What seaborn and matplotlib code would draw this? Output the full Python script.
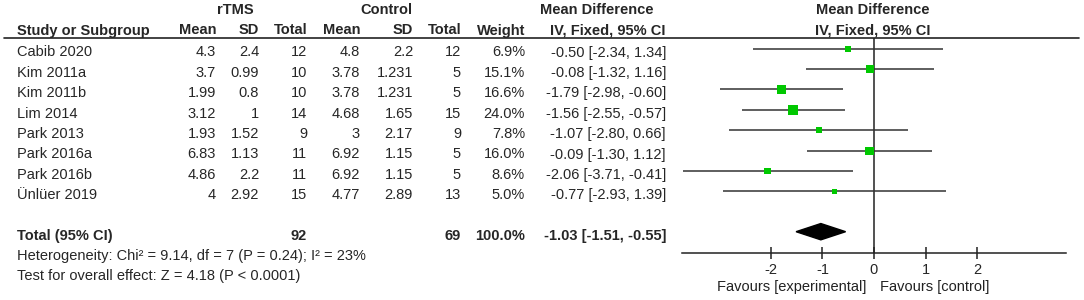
import numpy as np
import pandas as pd
import seaborn as sns
import matplotlib.pyplot as plt

# study data
studies = ['Cabib 2020', 'Kim 2011a', 'Kim 2011b', 'Lim 2014', 'Park 2013',
           'Park 2016a', 'Park 2016b', 'Ünlüer 2019']
e_mean = [4.3, 3.7, 1.99, 3.12, 1.93, 6.83, 4.86, 4]
e_sd = [2.4, 0.99, 0.8, 1, 1.52, 1.13, 2.2, 2.92]
e_n = [12, 10, 10, 14, 9, 11, 11, 15]
c_mean = [4.8, 3.78, 3.78, 4.68, 3, 6.92, 6.92, 4.77]
c_sd = [2.2, 1.231, 1.231, 1.65, 2.17, 1.15, 1.15, 2.89]
c_n = [12, 5, 5, 15, 9, 5, 5, 13]
weight = [6.9, 15.1, 16.6, 24.0, 7.8, 16.0, 8.6, 5.0]
md = [-0.50, -0.08, -1.79, -1.56, -1.07, -0.09, -2.06, -0.77]
md_lo = [-2.34, -1.32, -2.98, -2.55, -2.80, -1.30, -3.71, -2.93]
md_hi = [1.34, 1.16, -0.60, -0.57, 0.66, 1.12, -0.41, 1.39]

total_e, total_c = 92, 69
total_md, total_lo, total_hi = -1.03, -1.51, -0.55
het_text = 'Heterogeneity: Chi² = 9.14, df = 7 (P = 0.24); I² = 23%'
test_text = 'Test for overall effect: Z = 4.18 (P < 0.0001)'
ticks = [-2, -1, 0, 1, 2]

df = pd.DataFrame({'study': studies, 'md': md, 'lo': md_lo, 'hi': md_hi,
                   'weight': weight})
df['row'] = np.arange(len(df))

sns.set_style('white')
plt.rcParams['font.family'] = ['Liberation Sans', 'DejaVu Sans']
fs = 10.5

W, H = 1084, 300
fig = plt.figure(figsize=(W / 100, H / 100), dpi=100)

# background axes in pixel units for the table
ax0 = fig.add_axes([0, 0, 1, 1])
ax0.set_xlim(0, W)
ax0.set_ylim(H, 0)
ax0.axis('off')

row0, step = 52.5, 20.4
ys = row0 + step * np.arange(len(studies))
ytot = row0 + step * 9

ax0.text(235, 10, 'rTMS', ha='center', va='center', fontsize=fs, fontweight='bold')
ax0.text(386, 10, 'Control', ha='center', va='center', fontsize=fs, fontweight='bold')
ax0.text(597, 10, 'Mean Difference', ha='center', va='center', fontsize=fs, fontweight='bold')
ax0.text(873, 10, 'Mean Difference', ha='center', va='center', fontsize=fs, fontweight='bold')
ax0.text(873, 30.5, 'IV, Fixed, 95% CI', ha='center', va='center', fontsize=fs, fontweight='bold')

hdr_y = 30.5
ax0.text(17, hdr_y, 'Study or Subgroup', ha='left', va='center', fontsize=fs, fontweight='bold')
cols = [(216, 'Mean'), (259, 'SD'), (307, 'Total'), (360, 'Mean'), (413, 'SD'),
        (461, 'Total'), (525, 'Weight'), (666, 'IV, Fixed, 95% CI')]
for x, lab in cols:
    ax0.text(x, hdr_y, lab, ha='right', va='center', fontsize=fs, fontweight='bold')
ax0.plot([4, 1079], [38.3, 38.3], color='#222222', lw=1.2)

for i, y in enumerate(ys):
    ax0.text(17, y, studies[i], ha='left', va='center', fontsize=fs)
    vals = [f'{e_mean[i]:g}', f'{e_sd[i]:g}', f'{e_n[i]}', f'{c_mean[i]:g}',
            f'{c_sd[i]:g}', f'{c_n[i]}', f'{weight[i]:.1f}%',
            f'{md[i]:.2f} [{md_lo[i]:.2f}, {md_hi[i]:.2f}]']
    for (x, _), v in zip(cols, vals):
        ax0.text(x, y, v, ha='right', va='center', fontsize=fs)

ax0.text(17, ytot, 'Total (95% CI)', ha='left', va='center', fontsize=fs, fontweight='bold')
ax0.text(307, ytot, f'{total_e}', ha='right', va='center', fontsize=fs, fontweight='bold')
ax0.text(461, ytot, f'{total_c}', ha='right', va='center', fontsize=fs, fontweight='bold')
ax0.text(525, ytot, f'{sum(weight):.1f}%', ha='right', va='center', fontsize=fs, fontweight='bold')
ax0.text(666, ytot, f'{total_md:.2f} [{total_lo:.2f}, {total_hi:.2f}]',
         ha='right', va='center', fontsize=fs, fontweight='bold')
ax0.text(17, ytot + 20, het_text, ha='left', va='center', fontsize=fs)
ax0.text(17, ytot + 40, test_text, ha='left', va='center', fontsize=fs)

# forest axes: from header line (38px) to axis line (253px)
x_l, x_r, y_t, y_b = 682, 1066, 38.3, 253.3
ax = fig.add_axes([x_l / W, 1 - y_b / H, (x_r - x_l) / W, (y_b - y_t) / H])
ax.patch.set_alpha(0)
mk0 = 48.7
ax.set_ylim((y_b - mk0) / step, (y_t - mk0) / step)
ax.set_xlim(-3.72, 3.72)

ax.hlines(df['row'], df['lo'], df['hi'], color='#333333', lw=1.1, zorder=2)
sns.scatterplot(data=df, x='md', y='row', size='weight', sizes=(14, 52),
                size_norm=(5, 24), marker='s', color='#00c800', edgecolor='none',
                legend=False, ax=ax, zorder=3)
ax.axvline(0, color='#222222', lw=1.1, zorder=1)
ax.fill([total_lo, total_md, total_hi, total_md], [9 - 0.03, 9 - 0.43, 9 - 0.03, 9 + 0.37],
        color='black', zorder=3)

sns.despine(ax=ax, left=True, top=True, right=True)
ax.spines['bottom'].set_color('#222222')
ax.spines['bottom'].set_linewidth(1.1)
ax.set_yticks([])
ax.set_xticks(ticks)
ax.set_xticklabels([f'{t}' for t in ticks])
ax.tick_params(axis='x', direction='inout', length=8, width=1.1, color='#222222',
               pad=3, labelsize=fs, bottom=True)
ax.set_xlabel('')
ax.set_ylabel('')

ax0.text(866, 287, 'Favours [experimental]', ha='right', va='center', fontsize=fs, color='#222222')
ax0.text(880, 287, 'Favours [control]', ha='left', va='center', fontsize=fs, color='#222222')

fig.savefig('out.png', dpi=100)
